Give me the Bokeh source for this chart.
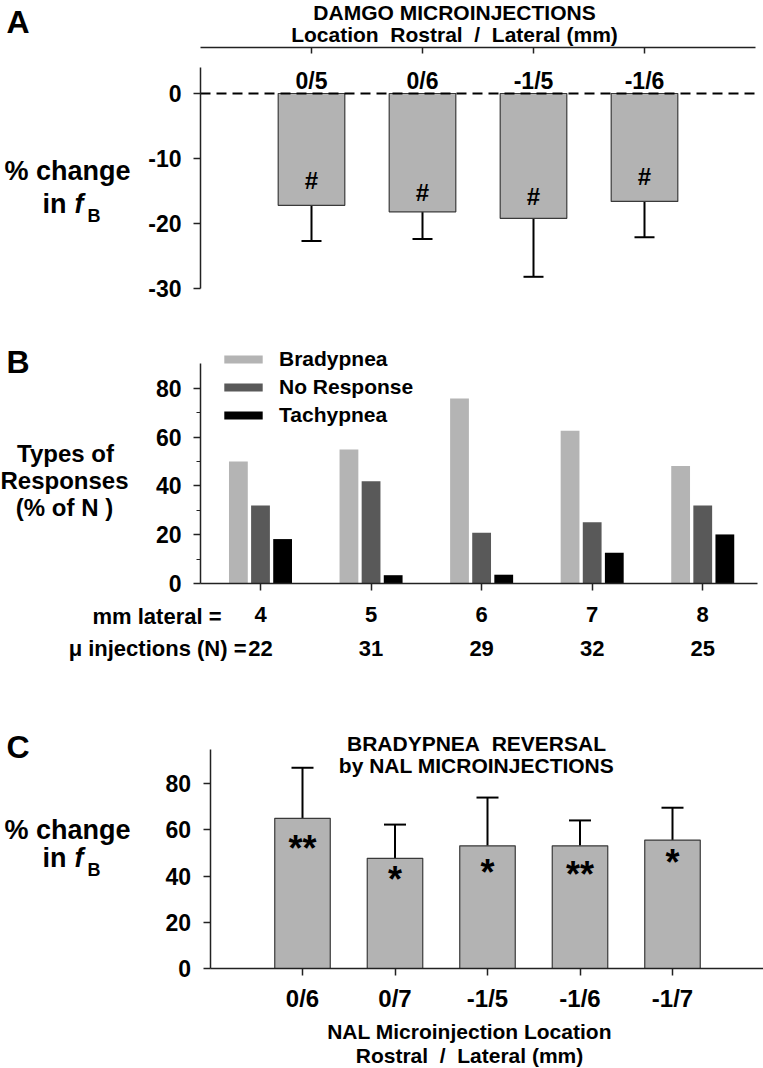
from bokeh.plotting import figure
from bokeh.layouts import column
from bokeh.models import (Range1d, LinearAxis, FixedTicker, Whisker,
                          TeeHead, ColumnDataSource, Legend, LegendItem)
from bokeh.transform import dodge
from bokeh.core.properties import value
from bokeh.embed import file_html
from bokeh.resources import INLINE

FONT = "Liberation Sans"
W = 763
NB = "\u00a0"

# ---------------- data ----------------
# Panel A: DAMGO microinjections
a_labels = ["0/5", "0/6", "-1/5", "-1/6"]
a_change = [-17.2, -18.2, -19.2, -16.6]
a_err = [-22.7, -22.4, -28.2, -22.1]
a_hash_y = [-13.4, -15.2, -15.8, -12.8]
a_yticks = [0, -10, -20, -30]

# Panel B: types of responses
b_lateral = ["4", "5", "6", "7", "8"]
b_n = ["22", "31", "29", "32", "25"]
b_series = ["Bradypnea", "No Response", "Tachypnea"]
b_brady = [50.0, 54.9, 75.8, 62.6, 48.1]
b_noresp = [32.0, 41.9, 20.8, 25.1, 32.0]
b_tachy = [18.2, 3.4, 3.6, 12.6, 20.1]
b_colors = ["#b4b4b4", "#595959", "#000000"]
b_yticks = [0, 20, 40, 60, 80]
b_yminor = [10, 30, 50, 70]

# Panel C: bradypnea reversal by NAL
c_labels = ["0/6", "0/7", "-1/5", "-1/6", "-1/7"]
c_change = [65.0, 47.7, 53.1, 53.1, 55.6]
c_err = [86.9, 62.3, 74.0, 64.1, 69.6]
c_stars = ["**", "*", "*", "**", "*"]
c_star_y = [54.3, 40.7, 43.6, 42.9, 47.9]
c_yticks = [0, 20, 40, 60, 80]

BAR_FILL = "#b3b3b3"
BAR_LINE = "#3a3a3a"
AX = "#222222"


def base_fig(height, xr, yr):
    p = figure(width=W, height=height, x_range=xr, y_range=yr,
               output_backend="svg", toolbar_location=None,
               x_axis_location=None, y_axis_location=None, min_border=0)
    p.outline_line_color = None
    p.xgrid.visible = False
    p.ygrid.visible = False
    p.background_fill_color = "white"
    p.border_fill_color = "white"
    return p


def make_axis(size, ticks, bounds, fixed, overrides=None, minor=None):
    ax = LinearAxis(ticker=FixedTicker(ticks=ticks, minor_ticks=minor or []),
                    bounds=bounds, fixed_location=fixed)
    ax.axis_line_color = AX
    ax.axis_line_width = 1.5
    ax.major_tick_line_color = AX
    ax.major_tick_line_width = 1.5
    ax.major_tick_in = 0
    ax.major_tick_out = 7
    ax.minor_tick_line_color = AX if minor else None
    ax.minor_tick_line_width = 1.2
    ax.minor_tick_in = 0
    ax.minor_tick_out = 4
    ax.major_label_text_font = FONT
    ax.major_label_text_font_style = "bold"
    ax.major_label_text_font_size = size
    ax.major_label_text_color = "black"
    ax.major_label_overrides = overrides if overrides is not None else {t: str(t) for t in ticks}
    return ax


def add_text(p, x, y, text, size, align="left", style="bold"):
    p.text(x=[x], y=[y], text=[text], text_font=value(FONT),
           text_font_style=style, text_font_size=size,
           text_align=align, text_baseline="middle", text_color="black")


# ================= Panel A =================  (page rows 0..310)
A_H = 310
A_PX, A_PY = 111.0, 6.5
def A_xd(px): return (px - 200.0) / A_PX
def A_yd(py): return (93.0 - py) / A_PY

a_x = list(range(1, len(a_labels) + 1))
a_xmax = len(a_labels) + 1
pA = base_fig(A_H, Range1d(A_xd(0), A_xd(W)), Range1d(A_yd(A_H), A_yd(0)))

ya = make_axis("23px", a_yticks, (-30, 4), 0)
ya.major_label_standoff = 12
pA.add_layout(ya, "left")

xa = make_axis("1px", a_x, (0, a_xmax), A_yd(47), {i: "" for i in a_x})
xa.major_tick_in = 6
xa.major_tick_out = 0
pA.add_layout(xa, "above")

srcA = ColumnDataSource(dict(x=a_x, change=a_change, err=a_err,
                             lab=a_labels, hy=a_hash_y, h=["#"] * len(a_x)))
pA.vbar(x="x", top=0, bottom="change", width=0.6, source=srcA,
        fill_color=BAR_FILL, line_color=BAR_LINE, line_width=1.2)
pA.add_layout(Whisker(base="x", upper="change", lower="err", source=srcA,
                      upper_head=None,
                      lower_head=TeeHead(size=20, line_width=2, line_color="black"),
                      line_width=2, line_color="black"))
pA.segment(x0=0, y0=0, x1=a_xmax, y1=0, line_color="black",
           line_width=2, line_dash="10 6")
pA.text(x="x", y=0, text="lab", source=srcA, text_font=value(FONT),
        text_font_style="bold", text_font_size="23px", text_align="center",
        text_baseline="bottom", text_color="black")
pA.text(x="x", y="hy", text="h", source=srcA, text_font=value(FONT),
        text_font_style="bold", text_font_size="24px", text_align="center",
        text_baseline="middle", text_color="black")

add_text(pA, A_xd(6), A_yd(21), "A", "32px")
add_text(pA, A_xd(454), A_yd(12), "DAMGO MICROINJECTIONS", "21px", "center")
add_text(pA, A_xd(454), A_yd(34), "Location" + NB + " Rostral" + NB + " /" + NB + " Lateral (mm)",
         "21px", "center")
add_text(pA, A_xd(67), A_yd(170.5), "% change", "27px", "center")
add_text(pA, A_xd(42), A_yd(203.5), "in", "27px")
add_text(pA, A_xd(74), A_yd(203.5), "f", "27px", style="bold italic")
add_text(pA, A_xd(87), A_yd(215.5), "B", "18px")

# ================= Panel B =================  (page rows 310..675)
B_TOP, B_H = 310, 365
B_PX, B_PY = 110.56, 2.441
def B_xd(px): return 1 + (px - 260.0) / B_PX
def B_yd(py): return (583.0 - py) / B_PY

b_x = list(range(1, len(b_lateral) + 1))
pB = base_fig(B_H, Range1d(B_xd(0), B_xd(W)), Range1d(B_yd(B_TOP + B_H), B_yd(B_TOP)))

yb = make_axis("23px", b_yticks, (0, 90), B_xd(200), minor=b_yminor)
yb.major_label_standoff = 12
pB.add_layout(yb, "left")

xb = make_axis("22px", b_x, (B_xd(200), B_xd(757)), 0,
               {i: s for i, s in zip(b_x, b_lateral)})
xb.major_label_standoff = 16
pB.add_layout(xb, "below")

srcB = ColumnDataSource(dict(x=b_x, brady=b_brady, noresp=b_noresp, tachy=b_tachy, n=b_n))
rB = []
for col, off, colr in zip(["brady", "noresp", "tachy"], [-0.2, 0.0, 0.2], b_colors):
    r = pB.vbar(x=dodge("x", off, range=pB.x_range), top=col, bottom=0, width=0.17,
                source=srcB, fill_color=colr, line_color=None)
    rB.append(r)

pB.text(x="x", y=B_yd(647.5), text="n", source=srcB, text_font=value(FONT),
        text_font_style="bold", text_font_size="22px", text_align="center",
        text_baseline="middle", text_color="black")

leg = Legend(items=[LegendItem(label=s, renderers=[r]) for s, r in zip(b_series, rB)],
             location=(219, B_TOP + B_H - 427), orientation="vertical",
             border_line_color=None, background_fill_alpha=0,
             padding=0, margin=0, spacing=3,
             glyph_width=48, glyph_height=10, label_height=25, label_standoff=12,
             label_text_font=FONT, label_text_font_style="bold",
             label_text_font_size="21px", label_text_color="black")
pB.add_layout(leg)

add_text(pB, B_xd(6), B_yd(361), "B", "32px")
add_text(pB, B_xd(65), B_yd(453), "Types of", "24px", "center")
add_text(pB, B_xd(64), B_yd(480), "Responses", "24px", "center")
add_text(pB, B_xd(64), B_yd(507), "(% of N )", "24px", "center")
add_text(pB, B_xd(221), B_yd(615.5), "mm lateral =", "22px", "right")
add_text(pB, B_xd(246), B_yd(647.5), "\u03bc injections (N) =", "22px", "right")

# ================= Panel C =================  (page rows 675..1068)
C_TOP, C_H = 675, 393
C_PX, C_PY = 92.5, 2.31
def C_xd(px): return 1 + (px - 302.0) / C_PX
def C_yd(py): return (968.0 - py) / C_PY

c_x = list(range(1, len(c_labels) + 1))
pC = base_fig(C_H, Range1d(C_xd(0), C_xd(W)), Range1d(C_yd(C_TOP + C_H), C_yd(C_TOP)))

yc = make_axis("23px", c_yticks, (0, 95), 0)
yc.major_label_standoff = 12
pC.add_layout(yc, "left")

xc = make_axis("24px", c_x, (0, C_xd(W)), 0, {i: s for i, s in zip(c_x, c_labels)})
xc.major_label_standoff = 9
pC.add_layout(xc, "below")

srcC = ColumnDataSource(dict(x=c_x, change=c_change, err=c_err, st=c_stars, sy=c_star_y))
pC.vbar(x="x", top="change", bottom=0, width=0.6, source=srcC,
        fill_color=BAR_FILL, line_color=BAR_LINE, line_width=1.2)
pC.add_layout(Whisker(base="x", upper="err", lower="change", source=srcC,
                      lower_head=None,
                      upper_head=TeeHead(size=22, line_width=2, line_color="black"),
                      line_width=2, line_color="black"))
pC.text(x="x", y="sy", text="st", source=srcC, text_font=value(FONT),
        text_font_style="bold", text_font_size="36px", text_align="center",
        text_baseline="middle", y_offset=5, text_color="black")

add_text(pC, C_xd(6), C_yd(746), "C", "32px")
add_text(pC, C_xd(476), C_yd(742.5), "BRADYPNEA" + NB + " REVERSAL", "21px", "center")
add_text(pC, C_xd(476), C_yd(764.5), "by NAL MICROINJECTIONS", "21px", "center")
add_text(pC, C_xd(67), C_yd(829), "% change", "27px", "center")
add_text(pC, C_xd(42), C_yd(857.5), "in", "27px")
add_text(pC, C_xd(74), C_yd(857.5), "f", "27px", style="bold italic")
add_text(pC, C_xd(87), C_yd(869.5), "B", "18px")
add_text(pC, C_xd(469), C_yd(1031), "NAL Microinjection Location", "21px", "center")
add_text(pC, C_xd(469), C_yd(1054.5), "Rostral" + NB + " /" + NB + " Lateral (mm)", "21px", "center")

layout = column(pA, pB, pC, spacing=0)
open("out.html", "w").write(file_html(layout, INLINE))
